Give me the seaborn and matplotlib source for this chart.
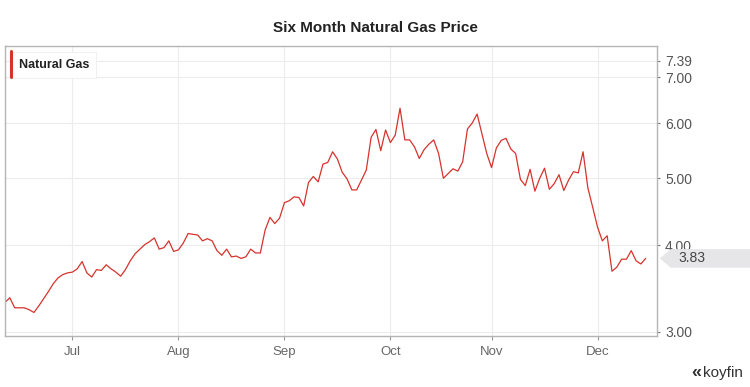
import matplotlib
matplotlib.use("Agg")
import matplotlib.pyplot as plt
from matplotlib.patches import Polygon
from matplotlib.lines import Line2D
from matplotlib.transforms import blended_transform_factory, ScaledTranslation
from matplotlib.ticker import FixedLocator, NullLocator
import numpy as np
import pandas as pd
import seaborn as sns

# daily closes, one per weekday, from 2021-06-11
start_date = "2021-06-11"
prices = [
    3.31, 3.36, 3.25, 3.25, 3.25, 3.23, 3.20, 3.27, 3.35, 3.43,
    3.52, 3.59, 3.63, 3.65, 3.66, 3.70, 3.79, 3.65, 3.60, 3.69,
    3.68, 3.75, 3.70, 3.66, 3.61, 3.69, 3.80, 3.89, 3.95, 4.01,
    4.05, 4.10, 3.95, 3.97, 4.06, 3.92, 3.94, 4.03, 4.16, 4.15,
    4.14, 4.06, 4.09, 4.06, 3.93, 3.87, 3.95, 3.85, 3.86, 3.83,
    3.85, 3.95, 3.90, 3.90, 4.21, 4.39, 4.30, 4.38, 4.61, 4.64,
    4.70, 4.69, 4.56, 4.93, 5.03, 4.94, 5.24, 5.27, 5.46, 5.33,
    5.10, 4.99, 4.81, 4.81, 4.97, 5.14, 5.73, 5.88, 5.48, 5.87,
    5.63, 5.77, 6.31, 5.68, 5.68, 5.55, 5.34, 5.50, 5.60, 5.68,
    5.43, 5.00, 5.08, 5.16, 5.12, 5.28, 5.89, 6.01, 6.19, 5.80,
    5.43, 5.18, 5.53, 5.67, 5.71, 5.51, 5.43, 4.98, 4.88, 5.15,
    4.79, 5.00, 5.17, 4.82, 4.91, 5.06, 4.80, 4.97, 5.11, 5.09,
    5.46, 4.84, 4.54, 4.25, 4.06, 4.13, 3.67, 3.72, 3.82, 3.82,
    3.93, 3.80, 3.76, 3.83,
]
month_labels = ["Jul", "Aug", "Sep", "Oct", "Nov", "Dec"]
y_ticks = [3.00, 4.00, 5.00, 6.00, 7.00, 7.39]

dates = pd.bdate_range(start_date, periods=len(prices))
df = pd.DataFrame({"date": dates, "price": prices})
df["pos"] = np.arange(len(df))

# first trading day of each month -> tick position
month_start = df.groupby(df["date"].dt.to_period("M"))["pos"].min().iloc[1:]

sns.set_style("white")
plt.rcParams["font.family"] = ["Liberation Sans", "DejaVu Sans"]

red = "#d5332c"
grid = "#ececec"
frame = "#b5b5b5"

fig = plt.figure(figsize=(7.5, 3.87), dpi=100)
ax = fig.add_axes([0.0067, 0.132, 0.869, 0.749])

sns.lineplot(data=df, x="pos", y="price", color=red, linewidth=0.9, ax=ax)

ax.set_yscale("log")
ax.set_ylim(2.96, 7.76)
ax.set_xlim(0, 135.3)

ax.yaxis.set_major_locator(FixedLocator(y_ticks))
ax.yaxis.set_minor_locator(NullLocator())
ax.set_yticklabels([f"{v:.2f}" for v in y_ticks])
ax.yaxis.tick_right()
ax.set_xticks(month_start.values)
ax.set_xticklabels(month_labels)
ax.set_xlabel("")
ax.set_ylabel("")

ax.grid(True, color=grid, linewidth=0.8)
ax.set_axisbelow(True)
for s in ax.spines.values():
    s.set_color(frame)
    s.set_linewidth(1.0)

ax.tick_params(axis="y", which="major", right=True, length=2, width=0.8,
               color="#777777", labelcolor="#555555", labelsize=10, pad=4)
ax.tick_params(axis="x", bottom=True, length=3, width=0.8, color="#999999",
               labelcolor="#666666", labelsize=9.5, pad=4)

fig.suptitle("Six Month Natural Gas Price", x=0.5, y=0.945, fontsize=11,
             fontweight="bold", color="#222222")

# legend box with red bar
ax.text(0.021, 0.934, "Natural Gas", transform=ax.transAxes, fontsize=9,
        fontweight="bold", color="#222222", va="center", ha="left",
        bbox=dict(boxstyle="square,pad=0.55", fc="white", ec="#f0f0f0", lw=0.8),
        zorder=5)
ax.add_line(Line2D([0.0095, 0.0095], [0.893, 0.983], transform=ax.transAxes,
                   color=red, linewidth=2.2, zorder=6, clip_on=False))

# last value marker on right axis
last = prices[-1]
anchor = ScaledTranslation(1.0, last, blended_transform_factory(ax.transAxes, ax.transData))
tr = fig.dpi_scale_trans + anchor
tag = Polygon([(0.03, 0), (0.14, 0.093), (0.95, 0.093), (0.95, -0.093), (0.14, -0.093)],
              closed=True, transform=tr, fc="#e6e6e8", ec="none", clip_on=False, zorder=1)
ax.add_patch(tag)
ax.text(0.35, 0, f"{last:.2f}", transform=tr, fontsize=10, color="#444444",
        ha="center", va="center", zorder=5, clip_on=False)

# brand mark
fig.text(0.991, 0.035, "koyfin", ha="right", va="center", fontsize=11,
         color="#333333")
fig.text(0.935, 0.037, "«", ha="right", va="center", fontsize=13,
         color="#333333", fontweight="bold")

fig.savefig("out.png", dpi=100, facecolor="white")
